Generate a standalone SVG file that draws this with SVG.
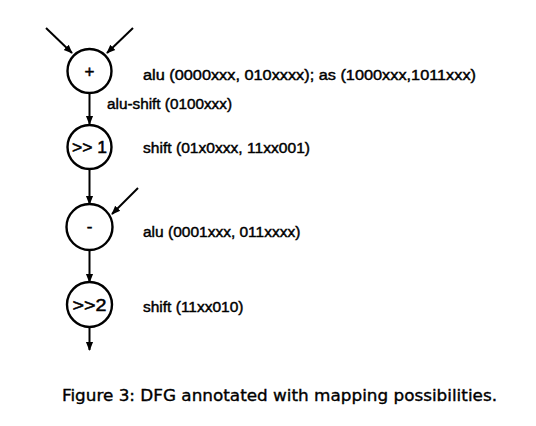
<svg xmlns="http://www.w3.org/2000/svg" width="536" height="426" viewBox="0 0 536 426">
<defs>
<marker id="ah" viewBox="0 0 10 10" refX="9" refY="5" markerWidth="4.5" markerHeight="4.5" orient="auto" markerUnits="strokeWidth">
<path d="M0,1 L10,5 L0,9 Z" fill="#000"/>
</marker>
<style>
.n{fill:#fff;stroke:#000;stroke-width:2.4}
.e{stroke:#000;stroke-width:2;fill:none;marker-end:url(#ah)}
.lbl{font-family:"Liberation Sans",Arial,sans-serif;font-size:15.5px;fill:#000;stroke:#000;stroke-width:0.45}
.nl{font-family:"Liberation Sans",Arial,sans-serif;font-size:17px;fill:#000;stroke:#000;stroke-width:0.5;text-anchor:middle}
.cap{font-family:"DejaVu Sans",sans-serif;font-size:15px;fill:#000;stroke:#000;stroke-width:0.35}
</style>
</defs>
<rect width="536" height="426" fill="#fff"/>
<g id="connectors">
<line class="e" x1="46" y1="28" x2="72" y2="53"/>
<line class="e" x1="133" y1="28" x2="107" y2="53"/>
<line class="e" x1="89.5" y1="93" x2="89.5" y2="124"/>
<line class="e" x1="89.5" y1="169" x2="89.5" y2="204"/>
<line class="e" x1="138" y1="188" x2="112" y2="214"/>
<line class="e" x1="89.5" y1="250" x2="89.5" y2="282"/>
<line class="e" x1="89.5" y1="327" x2="89.5" y2="350"/>
</g>
<g id="n_add">
<circle class="n" cx="89.5" cy="71" r="22"/>
<text class="nl" x="89.5" y="76.5">+</text>
</g>
<g id="n_shr1">
<circle class="n" cx="89.5" cy="147" r="22"/>
<text class="nl" x="89.5" y="153" textLength="35" lengthAdjust="spacingAndGlyphs">&gt;&gt; 1</text>
</g>
<g id="n_sub">
<circle class="n" cx="89.5" cy="227" r="23"/>
<text class="nl" x="89.5" y="232">-</text>
</g>
<g id="n_shr2">
<circle class="n" cx="89.5" cy="304.5" r="22.5"/>
<text class="nl" x="89.5" y="310.5" textLength="34" lengthAdjust="spacingAndGlyphs">&gt;&gt;2</text>
</g>
<g id="labels">
<text class="lbl" x="143" y="80" textLength="333" lengthAdjust="spacingAndGlyphs">alu (0000xxx, 010xxxx); as (1000xxx,1011xxx)</text>
<text class="lbl" x="107" y="109" textLength="125" lengthAdjust="spacingAndGlyphs">alu-shift (0100xxx)</text>
<text class="lbl" x="143" y="153" textLength="167" lengthAdjust="spacingAndGlyphs">shift (01x0xxx, 11xx001)</text>
<text class="lbl" x="143" y="237">alu (0001xxx, 011xxxx)</text>
<text class="lbl" x="143" y="312">shift (11xx010)</text>
</g>
<text class="cap" x="62" y="401" textLength="435" lengthAdjust="spacingAndGlyphs">Figure 3: DFG annotated with mapping possibilities.</text>
</svg>
